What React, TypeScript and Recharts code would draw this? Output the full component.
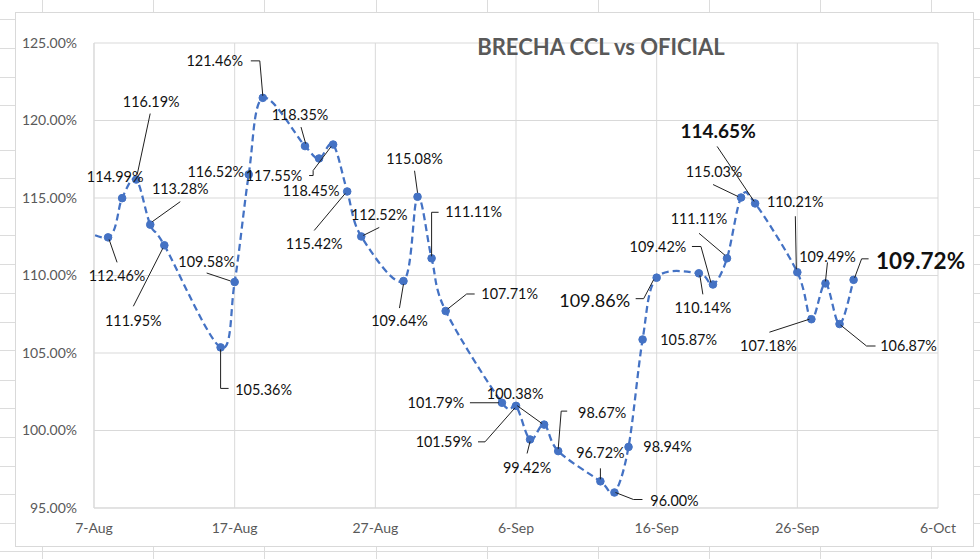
import React from "react";
import { CartesianGrid, Line, LineChart, XAxis, YAxis } from "recharts";

// Brecha CCL vs oficial, daily values (first one sits before the axis start and is clipped)
const dates = [
  "2022-08-05", "2022-08-08", "2022-08-09", "2022-08-10", "2022-08-11", "2022-08-12",
  "2022-08-16", "2022-08-17", "2022-08-18", "2022-08-19", "2022-08-22", "2022-08-23",
  "2022-08-24", "2022-08-25", "2022-08-26", "2022-08-29", "2022-08-30", "2022-08-31",
  "2022-09-01", "2022-09-05", "2022-09-06", "2022-09-07", "2022-09-08", "2022-09-09",
  "2022-09-12", "2022-09-13", "2022-09-14", "2022-09-15", "2022-09-16", "2022-09-19",
  "2022-09-20", "2022-09-21", "2022-09-22", "2022-09-23", "2022-09-26", "2022-09-27",
  "2022-09-28", "2022-09-29", "2022-09-30",
];
const brecha = [
  113.6, 112.46, 114.99, 116.19, 113.28, 111.95,
  105.36, 109.58, 116.52, 121.46, 118.35, 117.55,
  118.45, 115.42, 112.52, 109.64, 115.08, 111.11,
  107.71, 101.79, 101.59, 99.42, 100.38, 98.67,
  96.72, 96.0, 98.94, 105.87, 109.86, 110.14,
  109.42, 111.11, 115.03, 114.65, 110.21, 107.18,
  109.49, 106.87, 109.72,
];
const xTickDates = [
  "2022-08-07", "2022-08-17", "2022-08-27", "2022-09-06",
  "2022-09-16", "2022-09-26", "2022-10-06",
];
const yTicks = [95, 100, 105, 110, 115, 120, 125];

const MONTHS = ["Jan", "Feb", "Mar", "Apr", "May", "Jun", "Jul", "Aug", "Sep", "Oct", "Nov", "Dec"];
const toDay = (s: string) => {
  const [y, m, d] = s.split("-").map(Number);
  return Date.UTC(y, m - 1, d) / 86400000;
};
const dayLabel = (n: number) => {
  const d = new Date(Math.round(n) * 86400000);
  return `${d.getUTCDate()}-${MONTHS[d.getUTCMonth()]}`;
};

const chartData = dates.map((d, i) => ({ day: toDay(d), value: brecha[i] }));
const xTicks = xTickDates.map(toDay);

// label placement, relative to the point (Excel-style with leader lines)
type Lbl = { dx: number; dy: number; lead?: number[][]; size?: number; bold?: boolean };
const labelLayout: Record<string, Lbl> = {
  "2022-08-08": { dx: 9, dy: 38, lead: [[9, 25], [1, 2]] },
  "2022-08-09": { dx: -7, dy: -21 },
  "2022-08-10": { dx: 15, dy: -78, lead: [[14, -66], [1, -5]] },
  "2022-08-11": { dx: 30, dy: -36, lead: [[30, -23], [2, -3]] },
  "2022-08-12": { dx: -31, dy: 76, lead: [[-31, 61], [-1.5, 3]] },
  "2022-08-16": { dx: 43, dy: 42, lead: [[8, 41], [0, 41], [0, 2]] },
  "2022-08-17": { dx: -28, dy: -20, lead: [[-28, -9], [-4, -1]] },
  "2022-08-18": { dx: -33, dy: -3 },
  "2022-08-19": { dx: -48, dy: -37, lead: [[-12, -37], [-3, -37], [0, -2]] },
  "2022-08-22": { dx: -5, dy: -31, lead: [[-4, -19], [0.7, -2.4]] },
  "2022-08-23": { dx: -45, dy: 17 },
  "2022-08-24": { dx: -22, dy: 46, lead: [[-24, 31], [-20, 31], [-20, 26], [-2, 2]] },
  "2022-08-25": { dx: -33, dy: 52, lead: [[-33, 39], [-2, 2]] },
  "2022-08-26": { dx: 18, dy: -22, lead: [[18, -9], [2, -1]] },
  "2022-08-29": { dx: -4, dy: 40, lead: [[-4, 27], [0, 3]] },
  "2022-08-30": { dx: -3, dy: -38, lead: [[-3, -26], [0, -4]] },
  "2022-08-31": { dx: 42, dy: -46, lead: [[7, -46], [0, -46], [0, -2]] },
  "2022-09-01": { dx: 64, dy: -17, lead: [[29, -17], [21, -17], [2, -2]] },
  "2022-09-05": { dx: -66, dy: 0, lead: [[-32, 0], [-3, 0]] },
  "2022-09-06": { dx: -72, dy: 36, lead: [[-38, 36], [-31, 36], [-1, 2]] },
  "2022-09-07": { dx: -3, dy: 28, lead: [[-3, 14], [0, 2]] },
  "2022-09-08": { dx: -29, dy: -31, lead: [[-27, -19], [-2, -1]] },
  "2022-09-09": { dx: 44, dy: -38, lead: [[9, -40], [3, -40], [0, -2]] },
  "2022-09-12": { dx: 0, dy: -29, lead: [[0, -13], [0, -2]] },
  "2022-09-13": { dx: 60, dy: 8, lead: [[28, 7], [19, 7], [1, 0]] },
  "2022-09-14": { dx: 39, dy: 0 },
  "2022-09-15": { dx: 46, dy: 0 },
  "2022-09-16": { dx: -62, dy: 23, size: 18, lead: [[-21, 21], [-13, 21], [-3, 2]] },
  "2022-09-19": { dx: 4, dy: 34, lead: [[4, 21], [1, 2]] },
  "2022-09-20": { dx: -55, dy: -38, lead: [[-21, -38], [-12, -38], [-2, -2]] },
  "2022-09-21": { dx: -28, dy: -39, lead: [[-28, -25], [-2, -3]] },
  "2022-09-22": { dx: -27, dy: -26, lead: [[-28, -13], [-3, -1]] },
  "2022-09-23": { dx: -37, dy: -72, size: 19, bold: true, lead: [[-38, -57], [-1, -2]] },
  "2022-09-26": { dx: -2, dy: -70, lead: [[-2, -56], [-1, -3]] },
  "2022-09-27": { dx: -43, dy: 27, lead: [[-42, 13], [-2, 0]] },
  "2022-09-28": { dx: 2, dy: -27, lead: [[2, -21], [0, -2]] },
  "2022-09-29": { dx: 69, dy: 22, lead: [[36, 22], [27, 22], [1, 1]] },
  "2022-09-30": { dx: 67, dy: -19, size: 22.5, bold: true, lead: [[15, -21], [8, -21], [1, -2]] },
};

// Excel-like smoothed line (Catmull-Rom as cubic beziers)
const excelSmooth = (context: any) => {
  let pts: number[][] = [];
  return {
    areaStart() {},
    areaEnd() {},
    lineStart() {
      pts = [];
    },
    point(x: number, y: number) {
      pts.push([+x, +y]);
    },
    lineEnd() {
      const n = pts.length;
      if (!n) return;
      context.moveTo(pts[0][0], pts[0][1]);
      for (let i = 0; i < n - 1; i++) {
        const p0 = pts[Math.max(i - 1, 0)];
        const p1 = pts[i];
        const p2 = pts[i + 1];
        const p3 = pts[Math.min(i + 2, n - 1)];
        context.bezierCurveTo(
          p1[0] + (p2[0] - p0[0]) / 6,
          p1[1] + (p2[1] - p0[1]) / 6,
          p2[0] - (p3[0] - p1[0]) / 6,
          p2[1] - (p3[1] - p1[1]) / 6,
          p2[0],
          p2[1]
        );
      }
    },
  };
};

function PointLabel(props: any) {
  const { index, value } = props;
  const x = props.viewBox?.x ?? props.x;
  const y = props.viewBox?.y ?? props.y;
  const layout = labelLayout[dates[index]];
  if (!layout || x == null || y == null) return null;
  const size = layout.size ?? 14.4;
  return (
    <g>
      {layout.lead && (
        <polyline
          points={layout.lead.map(([a, b]) => `${x + a},${y + b}`).join(" ")}
          fill="none"
          stroke="#1f1f1f"
          strokeWidth={1}
        />
      )}
      <text
        x={x + layout.dx}
        y={y + layout.dy + size * 0.36}
        textAnchor="middle"
        fontSize={size}
        fontWeight={layout.bold ? 700 : 400}
        fontFamily="Lato"
        fill="#111"
      >
        {`${Number(value).toFixed(2)}%`}
      </text>
    </g>
  );
}

const sheetRows = [19, 48, 77, 105, 150, 178, 207, 235, 264, 293, 322, 350, 380, 408, 437, 466, 494, 523, 551];
const sheetCols = [42, 153, 264, 376, 487, 598, 709, 820, 931];

export default function App() {
  return (
    <div
      style={{
        position: "fixed",
        left: 0,
        top: 0,
        width: 980,
        height: 559,
        background: "#fff",
        overflow: "hidden",
        fontFamily: "Lato",
      }}
    >
      <svg width={980} height={559} style={{ position: "absolute", left: 0, top: 0 }}>
        {sheetRows.map((r) => (
          <line key={`r${r}`} x1={0} x2={980} y1={r + 0.5} y2={r + 0.5} stroke="#dcdcdc" />
        ))}
        {sheetCols.map((c) => (
          <line key={`c${c}`} x1={c + 0.5} x2={c + 0.5} y1={0} y2={559} stroke="#dcdcdc" />
        ))}
      </svg>
      <div
        style={{
          position: "absolute",
          left: 16,
          top: 13,
          width: 957,
          height: 533,
          background: "#fff",
          boxShadow: "0 0 0 1px #d9d9d9",
        }}
      >
        <LineChart
          width={957}
          height={533}
          data={chartData}
          margin={{ top: 30, right: 35, left: 0, bottom: 0 }}
          style={{ fontFamily: "Lato" }}
        >
          <CartesianGrid stroke="#d9d9d9" />
          <XAxis
            dataKey="day"
            type="number"
            domain={[xTicks[0], xTicks[xTicks.length - 1]]}
            ticks={xTicks}
            interval={0}
            allowDataOverflow
            tickFormatter={dayLabel}
            axisLine={{ stroke: "#d9d9d9" }}
            tickLine={false}
            tickSize={0}
            tickMargin={15}
            height={38}
            tick={{ fill: "#595959", fontSize: 14, fontFamily: "Lato" }}
          />
          <YAxis
            type="number"
            domain={[95, 125]}
            ticks={yTicks}
            interval={0}
            allowDataOverflow
            tickFormatter={(v: number) => `${v.toFixed(2)}%`}
            axisLine={{ stroke: "#d9d9d9" }}
            tickLine={false}
            tickSize={0}
            tickMargin={17}
            width={78}
            tick={{ fill: "#595959", fontSize: 14, fontFamily: "Lato" }}
          />
          <Line
            dataKey="value"
            type={excelSmooth as any}
            stroke="#4472C4"
            strokeWidth={2.25}
            strokeDasharray="7 4"
            dot={{ r: 3.8, fill: "#4472C4", stroke: "#4472C4", strokeWidth: 1, strokeDasharray: "0" }}
            activeDot={false}
            label={PointLabel}
            isAnimationActive={false}
          />
        </LineChart>
        <svg
          width={957}
          height={533}
          style={{ position: "absolute", left: 0, top: 0, pointerEvents: "none" }}
        >
          <text
            x={585}
            y={42}
            textAnchor="middle"
            fontSize={22}
            fontWeight={700}
            fontFamily="Lato"
            fill="#595959"
          >
            BRECHA CCL vs OFICIAL
          </text>
        </svg>
      </div>
    </div>
  );
}
